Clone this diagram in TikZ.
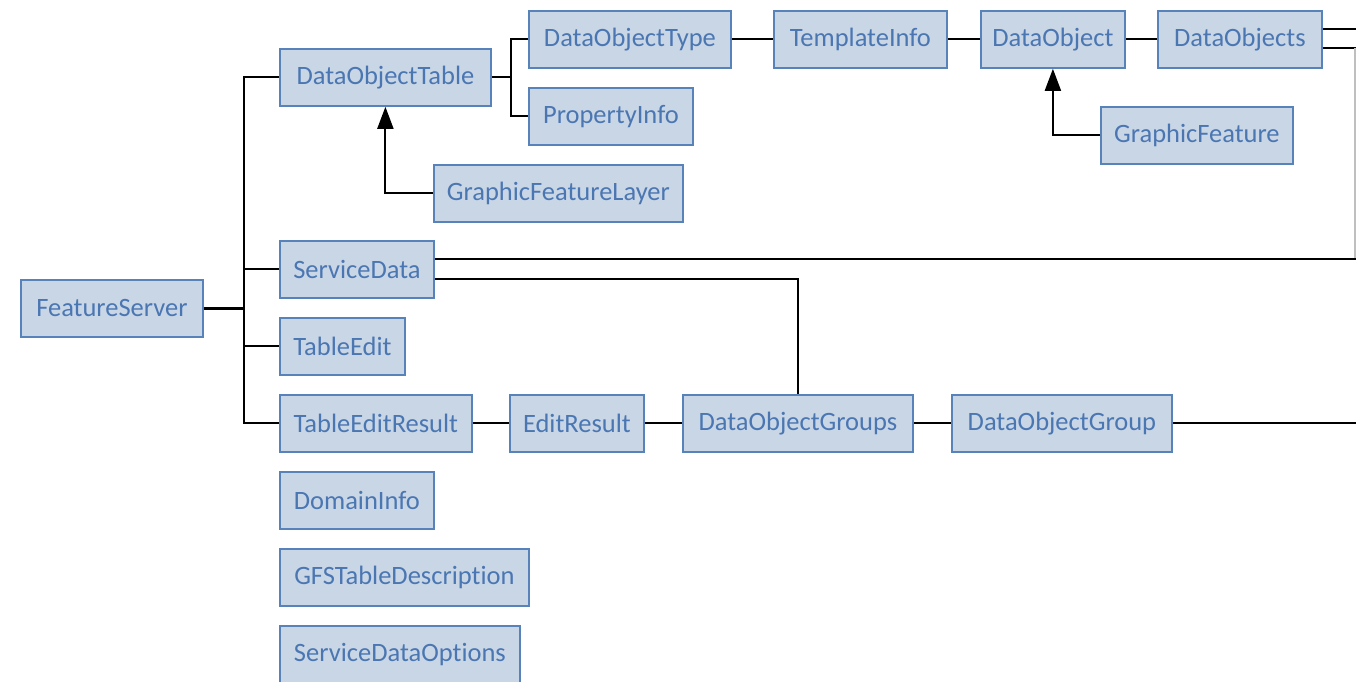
\documentclass[tikz,border=0pt]{standalone}
\usepackage{fontspec}
\setmainfont{Carlito}[Ligatures={NoCommon}]
\usetikzlibrary{arrows.meta}
\definecolor{boxfill}{RGB}{201,214,230}
\definecolor{boxline}{RGB}{88,130,186}
\definecolor{boxtext}{RGB}{74,118,178}
\begin{document}
\begin{tikzpicture}[x=1pt,y=-1pt,
  box/.style={draw=boxline, line width=1.8pt, fill=boxfill, text=boxtext,
    font=\fontsize{26.5}{30}\selectfont, minimum height=57pt, inner sep=0pt, anchor=north west},
  conn/.style={line width=2pt, black},
  arr/.style={conn, -{Triangle[length=22pt,width=16pt]}}]
\useasboundingbox (0,0) rectangle (1356,682);

\coordinate (b1) at (244,307.5);
\coordinate (b2) at (511,77);
\coordinate (e1) at (1356,29);
\coordinate (e2) at (1356,48);
\coordinate (r1) at (1355,48);
\coordinate (r2) at (1355,259);
\coordinate (e4) at (1356,259);
\coordinate (sdlow) at (433,279);
\coordinate (e5) at (1356,422);

% nodes
\node[box, minimum width=182pt] (fs) at (20,279) {FeatureServer};
\node[box, minimum width=211pt] (dot) at (279,48) {DataObjectTable};
\node[box, minimum width=202pt] (dotype) at (528,10) {DataObjectType};
\node[box, minimum width=164pt] (pinfo) at (528,87) {PropertyInfo};
\node[box, minimum width=249pt] (gfl) at (433,164) {GraphicFeatureLayer};
\node[box, minimum width=173pt] (tinfo) at (773,10) {TemplateInfo};
\node[box, minimum width=144pt] (dobj) at (980,10) {DataObject};
\node[box, minimum width=164pt] (dobjs) at (1157,10) {DataObjects};
\node[box, minimum width=192pt] (gf) at (1100,106) {GraphicFeature};
\node[box, minimum width=154pt] (sd) at (279,240) {ServiceData};
\node[box, minimum width=125pt] (te) at (279,317) {TableEdit};
\node[box, minimum width=192pt] (ter) at (279,394) {TableEditResult};
\node[box, minimum width=134pt] (er) at (509,394) {EditResult};
\node[box, minimum width=230pt] (dogs) at (682,394) {DataObjectGroups};
\node[box, minimum width=220pt] (dog) at (951,394) {DataObjectGroup};
\node[box, minimum width=154pt] (di) at (279,471) {DomainInfo};
\node[box, minimum width=249pt] (gfs) at (279,548) {GFSTableDescription};
\node[box, minimum width=240pt] (sdo) at (279,625) {ServiceDataOptions};

% FeatureServer tree
\draw[conn, line width=3pt] (fs.east) -- (fs.east -| b1);
\draw[conn] (b1) |- (dot.west);
\draw[conn] (b1) |- (sd.west);
\draw[conn] (b1) |- (te.west);
\draw[conn] (b1) |- (ter.west);

% DataObjectTable tree
\draw[conn] (dot.east) -- (dot.east -| b2);
\draw[conn] (dot.east -| b2) |- (dotype.west);
\draw[conn] (dot.east -| b2) |- (pinfo.west);

% top chain
\draw[conn] (dotype.east) -- (tinfo.west);
\draw[conn] (tinfo.east) -- (dobj.west);
\draw[conn] (dobj.east) -- (dobjs.west);
\draw[conn] (dobjs.east |- e1) -- (e1);
\draw[conn] (dobjs.east |- e2) -- (e2);
\draw[black!25, line width=1.2pt] (r1) -- (r2);

% ServiceData
\draw[conn] (sd.east |- e4) -- (e4);
\draw[conn] (sd.east |- sdlow) -| (dogs.north);

% bottom chain
\draw[conn] (ter.east) -- (er.west);
\draw[conn] (er.east) -- (dogs.west);
\draw[conn] (dogs.east) -- (dog.west);
\draw[conn] (dog.east) -- (dog.east -| e5);

% inheritance arrows
\draw[arr] (gfl.west) -| (dot.south);
\draw[arr] (gf.west) -| (dobj.south);
\end{tikzpicture}
\end{document}
